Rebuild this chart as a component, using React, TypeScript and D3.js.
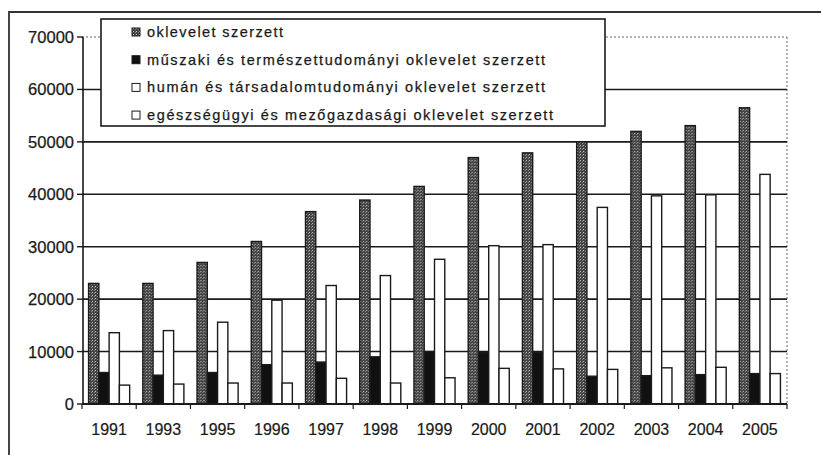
import React from "react";
import * as d3 from "d3";

const years = ["1991","1993","1995","1996","1997","1998","1999","2000","2001","2002","2003","2004","2005"];
const seriesNames = [
  "oklevelet szerzett",
  "műszaki és természettudományi oklevelet szerzett",
  "humán és társadalomtudományi oklevelet szerzett",
  "egészségügyi és mezőgazdasági oklevelet szerzett",
];
const oklevelet = [23000,23000,27000,31000,36700,38900,41500,47000,47900,50000,52000,53100,56500];
const muszaki = [6000,5500,6000,7500,8000,9000,10000,9800,9800,5300,5400,5600,5800];
const human = [13600,14000,15600,19800,22600,24500,27600,30200,30400,37500,39700,39900,43800];
const egeszseg = [3600,3800,4000,4000,4900,4000,5000,6800,6700,6600,6900,7000,5800];
const yTicks = [0,10000,20000,30000,40000,50000,60000,70000];

const seriesValues = [oklevelet, muszaki, human, egeszseg];
const legendEnds = [283, 545, 545, 553];

export default function App() {
  const W = 821, H = 455;
  const x0 = d3.scaleBand().domain(years).range([82, 787]).padding(0);
  const x1 = d3.scaleBand().domain(seriesNames).range([0, x0.bandwidth()]).paddingInner(0).paddingOuter(0.64);
  const y = d3.scaleLinear().domain([0, 70000]).range([404, 37]);
  const fills = ["url(#dots)", "#111", "#fff", "#fff"];
  const font = "'Liberation Sans', Arial, sans-serif";
  const ink = "#1a1a1a";

  return (
    <svg width={W} height={H} style={{ position: "absolute", left: 0, top: 0, background: "#fff" }} fontFamily={font}>
      <defs>
        <pattern id="dots" width="3" height="3" patternUnits="userSpaceOnUse">
          <rect width="3" height="3" fill="#444" />
          <rect x="1" y="1" width="1" height="1" fill="#c0c0c0" />
          <rect x="0" y="2" width="1" height="1" fill="#888" />
        </pattern>
      </defs>
      {/* outer frame */}
      <line x1={8} y1={12} x2={W} y2={12} stroke="#333" strokeWidth={2} />
      <line x1={9} y1={12} x2={9} y2={H} stroke="#444" strokeWidth={2} />

      {/* plot area border (dotted) */}
      <line x1={x0.range()[0]} x2={x0.range()[1]} y1={y(70000)} y2={y(70000)} stroke="#666" strokeWidth={1} strokeDasharray="2,2" />
      <line x1={x0.range()[1]} x2={x0.range()[1]} y1={y(70000)} y2={y(0)} stroke="#666" strokeWidth={1} strokeDasharray="2,2" />

      {/* gridlines */}
      {yTicks.filter(t => t > 0 && t < 70000).map(t => (
        <line key={t} x1={x0.range()[0]} x2={x0.range()[1]} y1={y(t)} y2={y(t)} stroke={ink} strokeWidth={1.6} />
      ))}

      {/* bars */}
      {years.map((yr, i) => (
        <g key={yr} transform={`translate(${x0(yr)},0)`}>
          {seriesNames.map((s, j) => {
            const v = seriesValues[j][i];
            return (
              <rect key={s} x={x1(s)} y={y(v)} width={x1.bandwidth()} height={y(0) - y(v)}
                fill={fills[j]} stroke={ink} strokeWidth={1.4} />
            );
          })}
        </g>
      ))}

      {/* y axis */}
      <line x1={83} x2={83} y1={y(70000)} y2={y(0)} stroke={ink} strokeWidth={1.6} />
      {yTicks.map(t => (
        <g key={t}>
          <line x1={77} x2={83} y1={y(t)} y2={y(t)} stroke={ink} strokeWidth={1.4} />
          <text x={74} y={y(t) + 6} textAnchor="end" fontSize={16.5} fill={ink} stroke={ink} strokeWidth={0.25}>{t}</text>
        </g>
      ))}

      {/* x axis */}
      <line x1={x0.range()[0]} x2={x0.range()[1]} y1={y(0)} y2={y(0)} stroke={ink} strokeWidth={2} />
      {years.map(yr => (
        <line key={"t" + yr} x1={x0(yr)!} x2={x0(yr)!} y1={y(0)} y2={y(0) + 5} stroke={ink} strokeWidth={1.2} />
      ))}
      <line x1={x0.range()[1]} x2={x0.range()[1]} y1={y(0)} y2={y(0) + 5} stroke={ink} strokeWidth={1.2} />
      {years.map(yr => (
        <text key={"l" + yr} x={x0(yr)! + x0.bandwidth() / 2} y={435} textAnchor="middle" fontSize={16} fill={ink} stroke={ink} strokeWidth={0.2}>{yr}</text>
      ))}

      {/* legend */}
      <rect x={101} y={19} width={504} height={107} fill="#fff" stroke={ink} strokeWidth={1.6} />
      {seriesNames.map((s, j) => {
        const cy = 32 + j * 27.7;
        return (
          <g key={"lg" + s}>
            <rect x={132} y={cy - 4} width={8} height={8} fill={fills[j]} stroke={ink} strokeWidth={1} />
            <text x={147} y={cy + 5} fontSize={14.5} fill={ink} stroke={ink} strokeWidth={0.25} textLength={legendEnds[j] - 147} lengthAdjust="spacing">{s}</text>
          </g>
        );
      })}
    </svg>
  );
}
